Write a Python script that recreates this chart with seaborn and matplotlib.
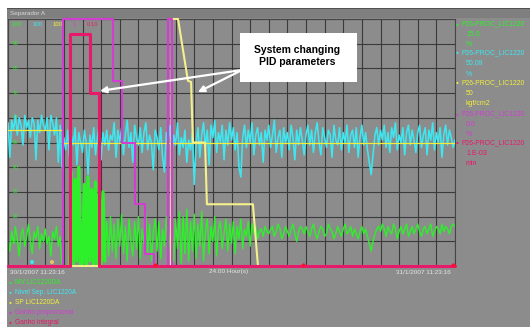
import numpy as np
import pandas as pd
import matplotlib
matplotlib.use("Agg")
import matplotlib.pyplot as plt
from matplotlib.patches import Rectangle
import seaborn as sns

W, H = 530, 327

# 24 h window, one sample every 6 minutes
hours = np.round(np.arange(0, 24.01, 0.1), 1)

# level PV (%)
level_pv = [
    58, 44, 59, 55, 61, 53, 60, 57, 49, 61, 56, 59, 52, 60, 58, 43, 59, 54, 61, 57,
    55, 60, 47, 61, 58, 53, 60, 42, 57, 40, 52, 47, 55, 44, 53, 49, 56, 41, 54, 50,
    46, 55, 50, 37, 53, 48, 56, 45, 52, 57, 43, 54, 49, 55, 47, 53, 51, 58, 44, 55,
    50, 56, 45, 53, 59, 48, 54, 42, 57, 52, 49, 56, 46, 54, 58, 47, 53, 50, 39, 55,
    52, 47, 56, 44, 38, 54, 50, 57, 46, 53, 49, 58, 45, 52, 48, 55, 42, 51, 47, 54,
    33, 50, 56, 44, 53, 58, 48, 55, 41, 57, 52, 59, 46, 54, 50, 57, 43, 55, 49, 58,
    51, 56, 47, 54, 40, 36, 52, 57, 48, 55, 50, 58, 45, 53, 56, 49, 54, 42, 55, 51,
    57, 48, 53, 59, 46, 52, 55, 44, 56, 50, 54, 47, 57, 52, 43, 55, 49, 56, 51, 45,
    53, 57, 49, 55, 46, 54, 58, 50, 45, 56, 52, 48, 55, 53, 44, 57, 51, 49, 56, 47,
    54, 50, 57, 46, 53, 55, 48, 56, 44, 52, 57, 49, 54, 47, 42, 37, 45, 53, 56, 49,
    55, 51, 57, 48, 54, 46, 56, 52, 58, 47, 53, 50, 56, 45, 54, 57, 49, 55, 51, 46,
    54, 57, 48, 53, 56, 45, 55, 51, 58, 47, 54, 50, 56, 44, 53, 57, 49, 55, 52, 48,
    51,
]

# valve output (%), green trace
valve_out = [
    12, 6, 14, 9, 16, 11, 4, 13, 15, 8, 12, 17, 10, 5, 14, 11, 16, 7, 13, 10,
    15, 9, 12, 4, 14, 11, 16, 8, 12, 0, 0, 0, 0, 0, 38, 0, 35, 2, 40, 1,
    1, 33, 0, 36, 2, 31, 0, 34, 1, 29, 0, 30, 2, 18, 4, 20, 6, 17, 3, 19,
    8, 21, 5, 16, 2, 19, 10, 4, 18, 7, 20, 3, 15, 9, 21, 5, 17, 2, 14, 19,
    6, 18, 3, 15, 8, 20, 4, 12, 17, 2, 19, 7, 22, 1, 20, 5, 23, 2, 18, 6,
    21, 3, 17, 8, 22, 2, 14, 19, 5, 16, 10, 20, 4, 15, 18, 7, 13, 19, 6, 17,
    9, 18, 5, 16, 11, 19, 7, 15, 12, 18, 8, 17, 13, 16, 11, 14, 15, 12, 16, 14,
    13, 15, 16, 12, 14, 17, 15, 11, 13, 16, 14, 12, 15, 17, 13, 10, 14, 16, 15, 13,
    16, 14, 12, 15, 17, 13, 11, 14, 16, 15, 12, 13, 17, 15, 14, 11, 13, 16, 14, 12,
    15, 17, 13, 14, 16, 12, 15, 13, 11, 14, 16, 13, 15, 12, 9, 6, 10, 13, 15, 16,
    14, 17, 15, 12, 16, 14, 13, 17, 15, 11, 14, 16, 13, 15, 17, 12, 14, 16, 13, 15,
    17, 14, 12, 15, 16, 13, 15, 17, 12, 14, 16, 15, 13, 17, 14, 16, 15, 13, 16, 17,
    16,
]

# window where the valve was hunting hard (drawn heavier so it reads as a block)
burst_start, burst_end = 3.3, 5.2

# set point (step changes)
sp_t = [0, 2.9, 24]
sp_v = [55, 50, 50]

# proportional gain (magenta, steps)
kp_t = [0, 2.95, 5.64, 6.12, 6.82, 7.36, 7.84, 8.59, 8.81, 24]
kp_v = [0, 100, 75, 50, 25, 5, 0, 100, 0, 0]

# integral gain (red, steps)
ki_t = [0, 3.33, 4.40, 4.89, 24]
ki_v = [0, 94, 70, 0, 0]

# pale yellow trace (ramped steps)
pale_t = [0, 8.75, 8.81, 9.13, 9.66, 9.83, 9.93, 10.58, 10.68, 13.15, 13.42, 24]
pale_v = [0, 0, 100, 100, 75, 74.5, 50, 50, 25, 25, 0, 0]

# cursor dots along the bottom
red_mark_t = [7.9, 15.84, 23.9]
other_mark_t = [1.29, 2.36]

right_names = ["P26-PROC_LIC1220", "P26-PROC_LIC1220", "P26-PROC_LIC1220",
               "P26-PROC_LIC1220", "P26-PROC_LIC1220"]
right_vals = ["15.0", "50.08", "50", "0.0", "1.E-03"]
right_units = ["%", "%", "kgf/cm2", "%", "min"]
bottom_names = ["MV LIC1220DA", "Nivel Sep. LIC1220A", "SP LIC1220DA",
                "Ganho proporcional", "Ganho integral"]

C_GREEN = "#2ef02a"
C_CYAN = "#3ee6f0"
C_YEL = "#f2ee3c"
C_PALE = "#f4f08c"
C_MAG = "#d23ed2"
C_RED = "#e8186a"
colors = [C_GREEN, C_CYAN, C_YEL, C_MAG, C_RED]

sns.set_theme(style="white")
plt.rcParams["font.family"] = ["Liberation Sans", "DejaVu Sans"]

fig = plt.figure(figsize=(W / 100, H / 100), dpi=100, facecolor="white")


def fx(px):
    return px / W


def fy(py):
    return 1 - py / H


# grey panel + title bar
fig.patches.append(Rectangle((fx(7), 0), 1, fy(8), transform=fig.transFigure,
                             facecolor="#8c8c8c", edgecolor="none", zorder=-10))
fig.patches.append(Rectangle((fx(7), fy(18)), 1, 10 / H, transform=fig.transFigure,
                             facecolor="#7f7f7f", edgecolor="none", zorder=-9))
fig.patches.append(Rectangle((fx(7), fy(9)), 1, 1.2 / H, transform=fig.transFigure,
                             facecolor="#505050", edgecolor="none", zorder=-8))
fig.text(fx(10), fy(13.5), "Separador A", fontsize=4.6, color="#d8d8d8", va="center")

ax = fig.add_axes([fx(8), fy(266), 447 / W, 247 / H])
ax.set_facecolor("#8c8c8c")

df = pd.DataFrame({"Hora": hours, "Nivel": level_pv, "MV": valve_out})
burst = df[(df["Hora"] >= burst_start) & (df["Hora"] <= burst_end)]

sns.lineplot(data=df, x="Hora", y="MV", ax=ax, color=C_GREEN, lw=1.0,
             estimator=None, zorder=2)
sns.lineplot(data=burst, x="Hora", y="MV", ax=ax, color=C_GREEN, lw=2.4,
             estimator=None, zorder=2)
sns.lineplot(data=df, x="Hora", y="Nivel", ax=ax, color=C_CYAN, lw=1.15,
             estimator=None, zorder=3)
sns.lineplot(x=sp_t, y=sp_v, ax=ax, color=C_YEL, lw=0.9, drawstyle="steps-post",
             estimator=None, sort=False, zorder=4)
sns.lineplot(x=pale_t, y=pale_v, ax=ax, color=C_PALE, lw=1.5,
             estimator=None, sort=False, zorder=4.5, clip_on=False)
sns.lineplot(x=kp_t, y=kp_v, ax=ax, color=C_MAG, lw=1.5, drawstyle="steps-post",
             estimator=None, sort=False, zorder=5, clip_on=False)
sns.lineplot(x=ki_t, y=ki_v, ax=ax, color=C_RED, lw=2.2, drawstyle="steps-post",
             estimator=None, sort=False, zorder=6, clip_on=False)
sns.scatterplot(x=red_mark_t, y=[0.4] * len(red_mark_t), ax=ax, color="#ff1030",
                s=9, linewidth=0, zorder=7, clip_on=False)
sns.scatterplot(x=other_mark_t, y=[1.6, 1.6], ax=ax, hue=["c", "y"],
                palette=[C_CYAN, "#e8c860"], s=8, linewidth=0, zorder=7, legend=False)

ax.set_xlim(0, 24)
ax.set_ylim(0, 100)
ax.set_xticks(np.arange(0, 25, 1))
ax.set_yticks(np.arange(0, 101, 10))
ax.grid(True, color="#3a3a3a", lw=0.8)
ax.set_axisbelow(True)
ax.tick_params(length=0, labelbottom=False, labelleft=False)
ax.set_xlabel("")
ax.set_ylabel("")
for s in ax.spines.values():
    s.set_color("#454545")
    s.set_linewidth(0.8)

# scale labels inside the plot
for v in range(10, 100, 10):
    ax.text(0.25, v, str(v), fontsize=3.6, color=C_GREEN, va="center", zorder=1.5)
for px, txt, c in [(12, "100", C_GREEN), (33, "100", C_CYAN), (53, "100", C_YEL),
                   (73, "1", C_MAG), (87, "0.10", C_RED)]:
    fig.text(fx(px), fy(25), txt, fontsize=4.2, color=c, va="center")

# right hand legend
for i, (n, val, u) in enumerate(zip(right_names, right_vals, right_units)):
    y0 = [24, 53, 83, 114, 143][i]
    fig.text(fx(456), fy(y0), "\u25cf", fontsize=3.5, color=colors[i], va="center")
    fig.text(fx(461), fy(y0), n, fontsize=4.9, color=colors[i], va="center")
    fig.text(fx(466), fy(y0 + 10.5), val, fontsize=5.0, color=colors[i], va="center")
    fig.text(fx(466), fy(y0 + 21), u, fontsize=5.0, color=colors[i], va="center")

# time axis labels
fig.text(fx(10), fy(272), "30/1/2007 11:23:16", fontsize=4.6, color="#e6e6e6", va="center")
fig.text(fx(229), fy(272), "24.00 Hour(s)", fontsize=4.6, color="#e6e6e6",
         va="center", ha="center")
fig.text(fx(451), fy(272), "31/1/2007 11:23:16", fontsize=4.6, color="#e6e6e6",
         va="center", ha="right")

# bottom legend
for i, n in enumerate(bottom_names):
    y0 = 283 + 10 * i
    fig.text(fx(9), fy(y0), "\u25cf", fontsize=3.5, color=colors[i], va="center")
    fig.text(fx(15), fy(y0), n, fontsize=4.8, color=colors[i], va="center")

# callout
fig.patches.append(Rectangle((fx(240), fy(82)), 117 / W, 49 / H, transform=fig.transFigure,
                             facecolor="white", edgecolor="none", zorder=20))
fig.text(fx(297), fy(56), "System changing\nPID parameters", fontsize=7.5,
         fontweight="bold", color="black", ha="center", va="center",
         linespacing=1.15, zorder=21)
for target in [(4.94, 70.9), (10.2, 70.4)]:
    ax.annotate("", xy=target, xycoords="data", xytext=(fx(242), fy(70)),
                textcoords="figure fraction", zorder=15,
                arrowprops=dict(arrowstyle="-|>", color="white", lw=1.6,
                                mutation_scale=9, shrinkA=0, shrinkB=0))

fig.savefig("out.png", dpi=100, facecolor="white")
